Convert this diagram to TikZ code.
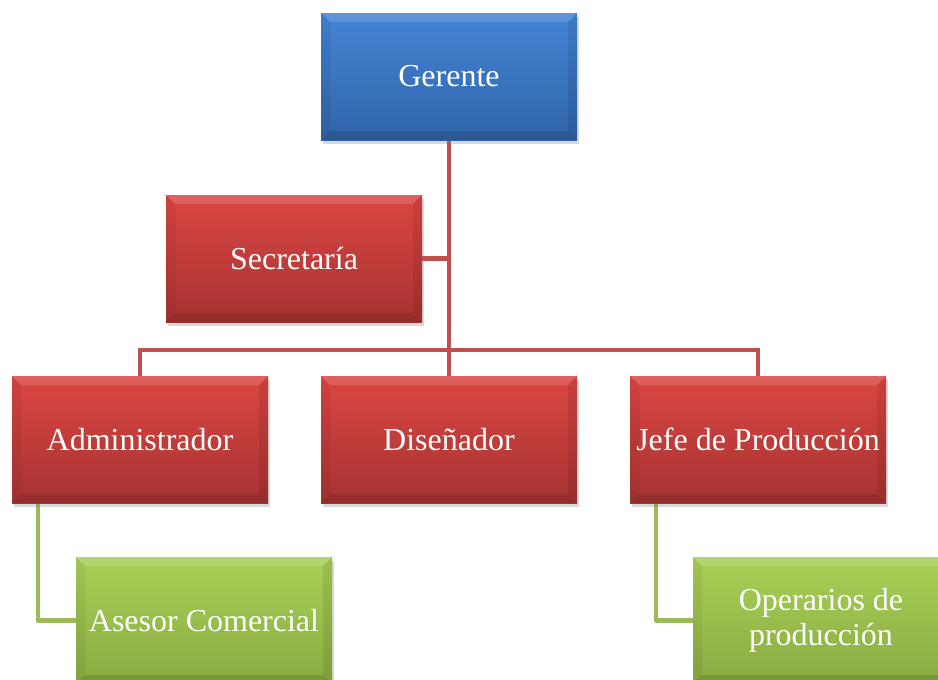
\documentclass[tikz,border=0pt]{standalone}
\usepackage{fontspec}
\setmainfont{Liberation Serif}
\usetikzlibrary{shadows,backgrounds}
\definecolor{blueT}{HTML}{4384D6}
\definecolor{blueB}{HTML}{3164A8}
\definecolor{redT}{HTML}{DB4643}
\definecolor{redB}{HTML}{A63331}
\definecolor{greenT}{HTML}{A9D058}
\definecolor{greenB}{HTML}{88AB40}
\definecolor{redLine}{HTML}{C0504D}
\definecolor{greenLine}{HTML}{9BBB59}
\tikzset{
  orgbox/.style={rectangle, minimum width=256pt, minimum height=127pt, inner sep=0pt,
    text=white, font=\fontsize{32}{35}\selectfont, align=center,
    drop shadow={shadow xshift=2pt, shadow yshift=-4pt, opacity=0.3},
    path picture={
      \path (path picture bounding box.north west) coordinate (nw)
            (path picture bounding box.north east) coordinate (ne)
            (path picture bounding box.south west) coordinate (sw)
            (path picture bounding box.south east) coordinate (se);
      \fill[white,opacity=0.14] (nw) -- (ne) -- ++(-9pt,-9pt) -- ([shift={(9pt,-9pt)}]nw) -- cycle;
      \fill[black,opacity=0.12] (sw) -- (se) -- ++(-9pt,9pt) -- ([shift={(9pt,9pt)}]sw) -- cycle;
      \fill[black,opacity=0.05] (nw) -- ([shift={(9pt,-9pt)}]nw) -- ([shift={(9pt,9pt)}]sw) -- (sw) -- cycle;
      \fill[black,opacity=0.08] (ne) -- ([shift={(-9pt,-9pt)}]ne) -- ([shift={(-9pt,9pt)}]se) -- (se) -- cycle;
    }},
  bluebox/.style={orgbox, top color=blueT, bottom color=blueB},
  redbox/.style={orgbox, top color=redT, bottom color=redB},
  greenbox/.style={orgbox, top color=greenT, bottom color=greenB},
  redline/.style={draw=redLine, line width=4.5pt},
  greenline/.style={draw=greenLine, line width=4.5pt, line join=round},
}
\begin{document}
\begin{tikzpicture}[x=1pt,y=-1pt]
\useasboundingbox (0,0) rectangle (938,680);
\clip (0,0) rectangle (938,680);
\node[bluebox] (ger) at (449,76.5) {Gerente};
\node[redbox] (sec) at (294,258.5) {Secretaría};
\node[redbox] (adm) at (140,439.5) {Administrador};
\node[redbox] (dis) at (449,439.5) {Diseñador};
\node[redbox] (jef) at (758,439.5) {Jefe de Producción};
\node[greenbox] (ase) at (204,620.5) {Asesor Comercial};
\node[greenbox] (ope) at (821,620.5) {Operarios de\\producción};
\coordinate (bus) at (449,350);
\begin{scope}[on background layer]
\draw[redline] (ger.south) -- (dis.north);
\draw[redline] (sec.east) -- (sec.east -| ger.south);
\draw[redline] (adm.north) |- (bus) -| (jef.north);
\draw[greenline] ([xshift=-102pt]adm.south) |- (ase.west);
\draw[greenline] ([xshift=-102pt]jef.south) |- (ope.west);
\end{scope}
\end{tikzpicture}
\end{document}
